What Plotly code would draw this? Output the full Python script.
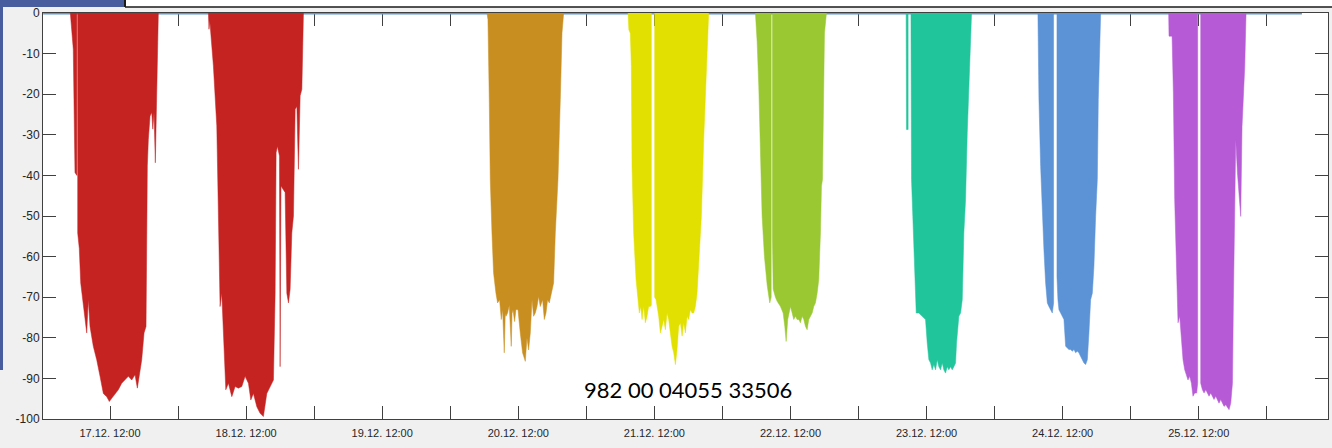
import plotly.graph_objects as go
import pandas as pd

BASE = "2019-12-17 00:00"

# ---- data: hours since BASE, depth (m) ----
H1 = [5.0, 5.06, 5.24, 5.52, 5.82, 6.15, 6.15, 6.3, 6.3, 6.58, 6.83, 7.18, 7.59, 7.89, 8.17,
      8.47, 9.05, 9.65, 10.24, 10.82, 11.42, 11.88, 12.30, 12.88, 13.46, 14.06, 14.65, 15.23, 15.83, 16.41,
      16.82, 17.17, 17.59, 18.0, 18.35, 18.58, 18.76, 19.06, 19.36, 19.54, 19.76, 19.99, 20.17, 20.35, 20.52]
D1 = [0, -1, -4.8, -8.9, -39.3, -40, 0, 0, -54.2, -58, -66.5, -70.6, -74, -78.8, -70.6,
      -77.2, -82.1, -85.4, -89.5, -93.7, -94.5, -95.7, -94.9, -93.7, -92.8, -91.2, -90.4, -89.5, -90.4, -89.1,
      -92.4, -89.5, -85.4, -78.8, -77.2, -37.7, -31.1, -25.4, -24.5, -28.6, -24.5, -36.9, -22, -17.1, 0]

H2 = [29.35, 29.45, 29.6, 29.95, 30.23, 30.83, 31.11, 31.41, 31.71, 31.99, 32.42, 32.88, 33.48, 34.06, 34.64,
      35.24, 35.82, 36.41, 36.83, 37.29, 37.89, 38.47, 39.05, 39.65, 40.24, 40.82, 41.12, 41.29, 41.52, 41.88,
      42.0, 42.15, 42.88, 43.18, 43.47, 43.76, 44.06, 44.35, 44.65, 44.95, 45.23, 45.53, 45.83, 46.11]
D2 = [0, -4, -2, -8, -13, -27.8, -45.9, -72.3, -69, -78.8, -92.8, -91.2, -94.5, -92, -92.4,
      -92, -89.5, -91.2, -95.3, -93.7, -97, -98.6, -99.4, -93.7, -92, -90.4, -69, -34.4, -32.8, -35.2,
      -87.1, -42.6, -44.2, -69, -71.4, -68.1, -54.2, -50, -23.7, -23, -38.5, -20.4, -18.8, 0]

H3 = [78.48, 78.65, 78.88, 79.06, 79.36, 79.64, 80.06, 80.35, 80.70, 81.0, 81.23, 81.53, 81.7, 81.83, 82.11,
      82.41, 82.76, 82.9, 83.06, 83.35, 83.59, 83.95, 84.35, 84.76, 85.24, 85.53, 85.82, 86.12, 86.42, 86.70,
      87.0, 87.30, 87.58, 87.88, 88.29, 88.59, 88.89, 89.17, 89.47, 89.82, 90.23, 90.53, 91.0, 91.41, 91.71, 92.0]
D3 = [0, -1.6, -21.3, -41, -54.2, -64, -69, -71.4, -70.6, -75.5, -73, -83.7, -74, -74.7, -73.9,
      -72, -82.1, -74, -73.1, -76, -73, -73.1, -78.8, -83.7, -85.8, -80, -83, -78.8, -70.6, -74.7,
      -73.9, -72.3, -69.8, -72.3, -70.6, -75.5, -73.9, -70.6, -71.4, -69, -66.5, -54.2, -41, -21.3, -4.9, 0]

H4 = [103.36, 103.5, 103.76, 103.94, 104.06, 104.35, 104.77, 105.12, 105.35, 105.58, 105.83, 106.11, 106.41,
      106.71, 106.99, 107.29, 107.47, 107.47, 108.05, 108.05, 108.30, 108.76, 109.06, 109.36, 109.64, 109.94,
      110.24, 110.52, 110.82, 111.12, 111.41, 111.71, 112.0, 112.29, 112.59, 112.89, 113.17, 113.47, 113.77,
      114.05, 114.35, 114.65, 114.94, 115.24, 115.53, 115.82, 116.29, 116.70, 117.0, 117.30, 117.58]
D4 = [0, -4.1, -5, -13.1, -37.8, -54.2, -65.7, -70.6, -73.9, -72.3, -75.5, -72.3, -76.3,
      -74.7, -72.3, -72.3, -72, 0, 0, -70, -70.6, -74.7, -78.8, -77.2, -75.5, -78,
      -73.9, -75.5, -78.8, -82.1, -83.7, -86.6, -82.9, -77.2, -76.3, -79.6, -76.3, -78.8, -74.7,
      -75.5, -73.1, -73.9, -73.9, -72.3, -69, -62.4, -50.1, -31.2, -21.3, -9, 0]

H5 = [125.82, 126.12, 126.41, 126.71, 127.0, 127.41, 127.89, 128.35, 128.52, 128.6, 128.6, 128.82, 128.82,
      128.95, 129.35, 129.65, 130.24, 130.71, 131.0, 131.24, 131.52, 131.82, 132.0, 132.30, 132.58, 132.88,
      133.18, 133.47, 133.76, 134.06, 134.35, 134.65, 134.94, 135.23, 135.53, 135.83, 136.11, 136.41, 136.71,
      136.99, 137.29, 137.47, 137.65, 137.77, 138.0, 138.35]
D5 = [0, -7, -18, -38.5, -50, -60, -67, -71.4, -70, -70, 0, 0, -55,
      -68, -70, -71, -72.3, -73.9, -77.2, -80.9, -75.5, -73.9, -72.3, -73.9, -75.5, -74.7,
      -75.5, -75.5, -76.3, -74.7, -75.5, -77.2, -78, -75.5, -74.7, -73.9, -72.3, -71.4, -69,
      -65.7, -54.2, -42.7, -41, -21.3, -4.9, 0]

H6 = [152.40, 152.47, 152.75, 152.75, 153.25, 153.25, 153.35, 153.58, 153.88, 154.18, 154.64, 155.24, 155.82,
      156.12, 156.41, 156.71, 157.0, 157.29, 157.59, 157.89, 158.17, 158.47, 158.77, 159.05, 159.35, 159.65,
      159.93, 160.23, 160.53, 160.82, 161.12, 161.29, 161.52, 161.70, 162.0, 162.30, 162.58, 162.88, 163.18,
      163.46, 163.76, 163.94]
D6 = [0, -28.7, -28.7, 0, 0, -38, -41, -50.1, -62.4, -73.9, -73.9, -74.7, -75.5,
      -81.3, -85.4, -86.2, -87.9, -86.6, -87.9, -85.4, -87.1, -87.9, -86.2, -87.9, -88.7, -87.1,
      -87.9, -87.1, -87.9, -87.1, -86.2, -81.3, -77.2, -74.7, -73.9, -70.6, -54.2, -46, -29.5,
      -17.3, -9, 0]

H7 = [175.64, 175.82, 176.12, 176.42, 176.70, 177.0, 177.30, 177.58, 177.88, 178.18, 178.41, 178.41, 179.0,
      179.0, 179.17, 179.35, 179.65, 179.94, 180.23, 180.53, 180.83, 181.11, 181.41, 181.71, 182.0, 182.29,
      182.59, 182.87, 183.18, 183.47, 183.76, 184.06, 184.36, 184.64, 184.94, 185.24, 185.52, 185.82, 186.12,
      186.29, 186.53, 186.71]
D7 = [0, -21.3, -37.8, -50.1, -58.3, -66.5, -71.4, -72.3, -73.1, -73.9, -71.4, 0, 0,
      -65, -70.6, -73.1, -73.9, -74.7, -75.5, -82.1, -82.5, -82.9, -82.9, -83.3, -82.9, -83.7,
      -83.3, -83.7, -84.6, -85.4, -86.2, -86.6, -85.4, -78.8, -70.6, -69, -62.4, -50.1, -41,
      -21.3, -4.9, 0]

H8 = [198.70, 198.76, 199.30, 199.36, 199.53, 199.76, 200.06, 200.35, 200.65, 200.95, 201.23, 201.53, 201.83,
      202.11, 202.41, 202.71, 202.99, 203.29, 203.64, 203.82, 203.82, 204.35, 204.35, 204.65, 204.94, 205.24,
      205.53, 205.82, 206.12, 206.42, 206.70, 207.0, 207.30, 207.58, 207.88, 208.18, 208.47, 208.76, 209.06,
      209.35, 209.65, 209.95, 210.12, 210.23, 210.35, 210.53, 210.83, 211.11, 211.41, 211.64, 211.89, 212.12,
      212.35]
D8 = [0, -5.7, -5.7, -10, -19.7, -46, -62.4, -76.3, -74.7, -80.5, -85.4, -87.9, -89.5,
      -90.4, -89.5, -91.2, -94.4, -93.6, -93.6, -91.2, 0, 0, -91.2, -92.8, -93.6, -92.8,
      -93.6, -94.4, -93.6, -94.4, -95.2, -94.4, -95.2, -96.1, -95.2, -96.1, -96.9, -96.5, -97.3,
      -97.7, -96.1, -91.2, -70.6, -58.3, -47.6, -31.2, -39.4, -46, -50.1, -27.9, -21.3, -13.1,
      0]

DAY_COLORS = ["#c52222", "#c52222", "#c98e20", "#e1e000", "#99c832", "#21c59b", "#5b93d6", "#b65ad6"]

# surface record (depth 0) spanning the logger record
REC_H = [0.2, 222.2]
REC_D = [0, 0]

X_RANGE_H = [0.18, 226.8]
Y_TICKS = [0, -10, -20, -30, -40, -50, -60, -70, -80, -90, -100]
Y_LABELS = ["0", "-10", "-20", "-30", "-40", "-50", "-60", "-70", "-80", "-90", "-100"]
ID_TEXT = "982 00 04055 33506"

SEGMENTS = [(H1, D1), (H2, D2), (H3, D3), (H4, D4), (H5, D5), (H6, D6), (H7, D7), (H8, D8)]


def to_time(hours):
    return pd.Timestamp(BASE) + pd.to_timedelta(hours, unit="h")


fig = go.Figure()
fig.add_trace(go.Scatter(x=to_time(REC_H), y=REC_D, mode="lines",
                         line=dict(color="#5e9ad2", width=3), showlegend=False, hoverinfo="skip"))
for (h, d), c in zip(SEGMENTS, DAY_COLORS):
    fig.add_trace(go.Scatter(x=to_time(h), y=d, mode="lines", fill="tozeroy", fillcolor=c,
                             line=dict(color=c, width=0.5), showlegend=False))

axis_col = "#404040"
tick_font = dict(family="Liberation Sans, Arial, sans-serif", color="#262626")
xr = to_time(X_RANGE_H)
fig.update_xaxes(
    type="date", range=[xr[0], xr[1]], automargin=False,
    tickmode="linear", tick0=BASE[:10] + " 12:00", dtick=86400000,
    tickformat="%d.%m. %H:%M",
    ticks="inside", ticklen=13, tickwidth=1, tickcolor=axis_col,
    showline=True, linecolor=axis_col, linewidth=1, mirror="ticks",
    showgrid=False, zeroline=False, layer="below traces",
    minor=dict(ticks="inside", ticklen=13, tickwidth=1, tickcolor=axis_col,
               dtick=43200000, tick0=BASE, showgrid=False),
    tickfont=dict(size=11, **tick_font), ticklabelstandoff=4,
)
fig.update_yaxes(
    range=[-100, 0], tickmode="array", tickvals=Y_TICKS, ticktext=Y_LABELS, automargin=False,
    ticks="inside", ticklen=13, tickwidth=1, tickcolor=axis_col,
    showline=True, linecolor=axis_col, linewidth=1, mirror="ticks",
    showgrid=False, zeroline=False, layer="below traces",
    tickfont=dict(size=12, **tick_font),
)

# decorative slide frame (paper coordinates)
W, Hh = 1332, 448
L, R, T, B = 43, 4, 13, 29
pw, ph = W - L - R, Hh - T - B


def px(xp):
    return (xp - L) / pw


def py(yp):
    return (Hh - B - yp) / ph


deco = "#475d9e"
shapes = [
    dict(type="rect", xref="paper", yref="paper", x0=px(0), x1=px(124), y0=py(7), y1=py(0),
         fillcolor=deco, line=dict(width=0), layer="above"),
    dict(type="rect", xref="paper", yref="paper", x0=px(0), x1=px(3), y0=py(370), y1=py(0),
         fillcolor=deco, line=dict(width=0), layer="above"),
    dict(type="rect", xref="paper", yref="paper", x0=px(124), x1=px(1332), y0=py(7), y1=py(0),
         fillcolor="white", line=dict(width=0), layer="above"),
    dict(type="line", xref="paper", yref="paper", x0=px(125), x1=px(1332), y0=py(7), y1=py(7),
         line=dict(color="#1a1a1a", width=1.5), layer="above"),
    dict(type="line", xref="paper", yref="paper", x0=px(125), x1=px(125), y0=py(7), y1=py(0),
         line=dict(color="#1a1a1a", width=2), layer="above"),
]

fig.update_layout(
    width=W, height=Hh,
    margin=dict(l=L, r=R, t=T, b=B, autoexpand=False),
    paper_bgcolor="#f0f0f0", plot_bgcolor="white",
    showlegend=False, shapes=shapes, hovermode=False,
    annotations=[dict(text=ID_TEXT, xref="paper", yref="paper", x=px(688), y=py(389),
                      xanchor="center", yanchor="middle", showarrow=False,
                      font=dict(family="Lato, Open Sans, sans-serif", size=22, color="black"))],
)

fig.write_html("out.html", config={"displayModeBar": False},
               post_script="document.body.style.margin='0';document.body.style.overflow='hidden';")
